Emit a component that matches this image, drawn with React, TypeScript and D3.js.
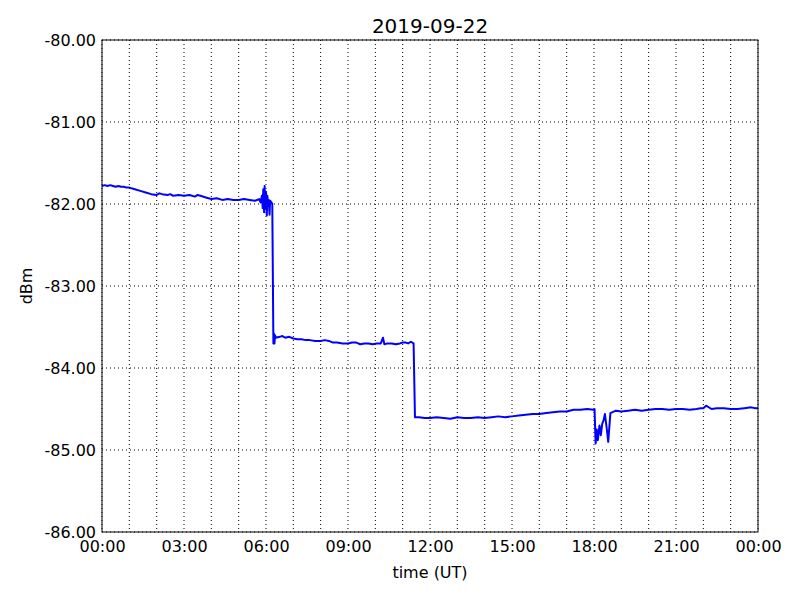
import React, { useRef, useEffect } from "react";
import * as d3 from "d3";

// hours since 00:00 UT and received level (dBm)
const hours = [
  0, 0.1, 0.2, 0.3, 0.4, 0.5, 0.6, 0.7, 0.8, 0.9, 1.0, 1.2, 1.4, 1.6, 1.8,
  2.0, 2.1, 2.2, 2.4, 2.5, 2.6, 2.8, 3.0, 3.2, 3.4, 3.5, 3.6, 3.8, 4.0, 4.2,
  4.4, 4.6, 4.8, 5.0, 5.2, 5.4, 5.6,
  5.75, 5.8, 5.85, 5.88, 5.9, 5.93, 5.95, 5.97, 6.0, 6.03, 6.05, 6.08, 6.1,
  6.13, 6.15, 6.2, 6.23, 6.27, 6.29, 6.31, 6.33, 6.36, 6.5, 6.6, 6.7, 6.85,
  7.0, 7.15, 7.3, 7.45, 7.6, 7.8, 8.0, 8.15, 8.3, 8.45, 8.6, 8.8, 9.0, 9.15,
  9.3, 9.45, 9.6, 9.75, 9.9, 10.05, 10.2, 10.28, 10.33, 10.45, 10.6, 10.75,
  10.9, 11.0, 11.1, 11.2, 11.3, 11.4, 11.45, 11.6, 11.8, 12.0, 12.25, 12.5,
  12.75, 13.0, 13.25, 13.5, 13.75, 14.0, 14.25, 14.5, 14.75, 15.0, 15.25,
  15.5, 15.75, 16.0, 16.25, 16.5, 16.75, 17.0, 17.25, 17.5, 17.75, 17.98,
  18.02, 18.06, 18.1, 18.14, 18.2, 18.25, 18.3, 18.35, 18.4, 18.47, 18.52,
  18.6, 18.8, 19.0, 19.25, 19.5, 19.75, 20.0, 20.25, 20.5, 20.75, 21.0,
  21.25, 21.5, 21.75, 21.9, 22.0, 22.1, 22.3, 22.5, 22.75, 23.0, 23.25,
  23.5, 23.75, 23.9, 24.0,
];

const dbm = [
  -81.78, -81.77, -81.78, -81.77, -81.78, -81.79, -81.78, -81.79, -81.79,
  -81.8, -81.8, -81.82, -81.84, -81.86, -81.88, -81.89, -81.87, -81.88,
  -81.89, -81.88, -81.9, -81.89, -81.9, -81.89, -81.91, -81.89, -81.9,
  -81.92, -81.94, -81.93, -81.95, -81.94, -81.95, -81.95, -81.94, -81.95,
  -81.96,
  -81.94, -81.98, -81.9, -82.05, -81.82, -82.1, -81.78, -82.06, -81.85,
  -82.14, -81.9, -82.02, -81.95, -82.13, -81.96, -81.98, -82.0, -83.7,
  -83.58, -83.7, -83.6, -83.63, -83.62, -83.61, -83.63, -83.62, -83.64,
  -83.65, -83.65, -83.66, -83.66, -83.67, -83.67, -83.66, -83.67, -83.69,
  -83.69, -83.7, -83.7, -83.69, -83.69, -83.71, -83.7, -83.7, -83.71,
  -83.7, -83.7, -83.63, -83.71, -83.7, -83.7, -83.71, -83.7, -83.69,
  -83.69, -83.7, -83.68, -83.7, -84.6, -84.6, -84.61, -84.61, -84.6,
  -84.61, -84.62, -84.6, -84.61, -84.61, -84.6, -84.61, -84.6, -84.59,
  -84.6, -84.59, -84.58, -84.57, -84.56, -84.56, -84.55, -84.54, -84.53,
  -84.53, -84.51, -84.51, -84.5, -84.51, -84.5, -84.92, -84.75, -84.88,
  -84.7, -84.82, -84.68, -84.64, -84.56, -84.75, -84.9, -84.55, -84.52,
  -84.53, -84.52, -84.51, -84.52, -84.51, -84.5, -84.5, -84.51, -84.5,
  -84.5, -84.51, -84.5, -84.49, -84.49, -84.46, -84.5, -84.49, -84.49,
  -84.5, -84.5, -84.49, -84.48, -84.49, -84.49, -84.52,
];

const title = "2019-09-22";
const yTicks = [-86, -85, -84, -83, -82, -81, -80];

const App = () => {
  const svgRef = useRef<SVGSVGElement>(null);
  const width = 800;
  const height = 600;
  const margin = { top: 40, right: 42, bottom: 68, left: 102 };

  useEffect(() => {
    const svg = d3.select(svgRef.current);
    svg.selectAll("*").remove();

    const day = Date.UTC(2019, 8, 22);
    const toDate = (h: number) => new Date(day + h * 3600 * 1000);
    const data = hours.map((h, i) => [toDate(h), dbm[i]] as [Date, number]);

    const x = d3
      .scaleUtc()
      .domain([toDate(0), toDate(24)])
      .range([margin.left, width - margin.right]);
    const y = d3
      .scaleLinear()
      .domain([-86, -80])
      .range([height - margin.bottom, margin.top]);

    const font = "DejaVu Sans, sans-serif";

    // grid: every hour vertically, every dB horizontally
    const grid = svg.append("g");
    grid
      .selectAll("line.v")
      .data(x.ticks(d3.utcHour.every(1)!))
      .join("line")
      .attr("x1", (d) => x(d))
      .attr("x2", (d) => x(d))
      .attr("y1", margin.top)
      .attr("y2", height - margin.bottom)
      .attr("stroke", "#000")
      .attr("stroke-width", 1)
      .attr("stroke-dasharray", "1,3");
    grid
      .selectAll("line.h")
      .data(yTicks)
      .join("line")
      .attr("x1", margin.left)
      .attr("x2", width - margin.right)
      .attr("y1", (d) => y(d))
      .attr("y2", (d) => y(d))
      .attr("stroke", "#000")
      .attr("stroke-width", 1)
      .attr("stroke-dasharray", "1,3");

    const line = d3
      .line<[Date, number]>()
      .x((d) => x(d[0]))
      .y((d) => y(d[1]));

    svg
      .append("path")
      .datum(data)
      .attr("fill", "none")
      .attr("stroke", "#0000ff")
      .attr("stroke-width", 2)
      .attr("stroke-linejoin", "round")
      .attr("d", line);

    // frame
    svg
      .append("rect")
      .attr("x", margin.left)
      .attr("y", margin.top)
      .attr("width", width - margin.left - margin.right)
      .attr("height", height - margin.top - margin.bottom)
      .attr("fill", "none")
      .attr("stroke", "#000")
      .attr("stroke-width", 1);

    const xAxis = svg
      .append("g")
      .attr("transform", `translate(0, ${height - margin.bottom})`)
      .call(
        d3
          .axisBottom(x)
          .ticks(d3.utcHour.every(3)!)
          .tickSize(0)
          .tickPadding(9)
          .tickFormat((d) => d3.utcFormat("%H:%M")(d as Date))
      );
    xAxis.select(".domain").remove();
    xAxis.selectAll("text").attr("font-size", 16).attr("font-family", font).attr("fill", "#000");

    const yAxis = svg
      .append("g")
      .attr("transform", `translate(${margin.left}, 0)`)
      .call(
        d3
          .axisLeft(y)
          .tickValues(yTicks)
          .tickSize(0)
          .tickPadding(6)
          .tickFormat((d) => d3.format(".2f")(d as number).replace("−", "-"))
      );
    yAxis.select(".domain").remove();
    yAxis.selectAll("text").attr("font-size", 16).attr("font-family", font).attr("fill", "#000");

    svg
      .append("text")
      .attr("x", (margin.left + width - margin.right) / 2)
      .attr("y", 33)
      .attr("text-anchor", "middle")
      .attr("font-size", 20)
      .attr("font-family", font)
      .text(title);

    svg
      .append("text")
      .attr("x", (margin.left + width - margin.right) / 2)
      .attr("y", 578)
      .attr("text-anchor", "middle")
      .attr("font-size", 16)
      .attr("font-family", font)
      .text("time (UT)");

    svg
      .append("text")
      .attr("transform", `translate(32, ${(margin.top + height - margin.bottom) / 2}) rotate(-90)`)
      .attr("text-anchor", "middle")
      .attr("font-size", 16)
      .attr("font-family", font)
      .text("dBm");
  }, []);

  return (
    <div style={{ position: "absolute", left: 0, top: 0 }}>
      <svg ref={svgRef} width={width} height={height} style={{ display: "block", background: "#fff" }} />
    </div>
  );
};

export default App;
